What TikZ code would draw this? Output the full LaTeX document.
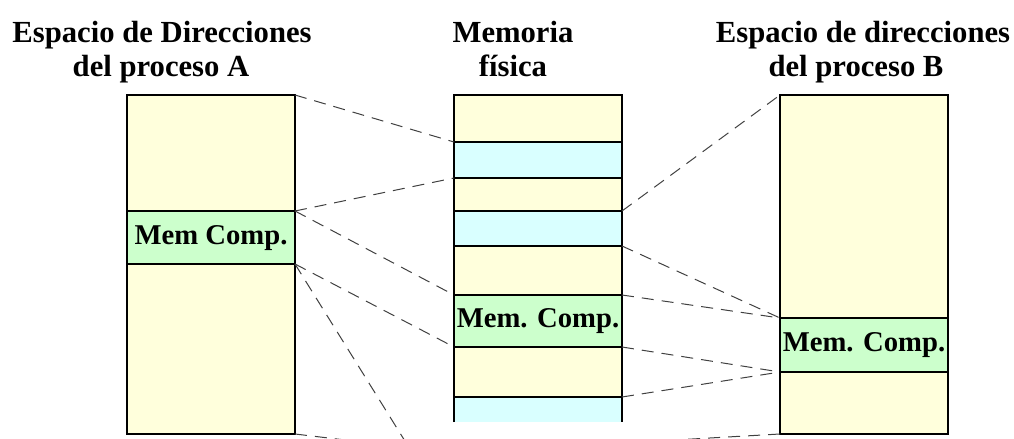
\documentclass[tikz,border=0pt]{standalone}
\usepackage{fontspec}
\setmainfont{Liberation Serif}
\definecolor{cyel}{HTML}{FFFFDC}
\definecolor{cblu}{HTML}{D9FFFF}
\definecolor{cgrn}{HTML}{CCFFCC}
\definecolor{cdash}{HTML}{404040}
\begin{document}
\begin{tikzpicture}[x=0.75pt,y=-0.75pt,
  colline/.style={draw=black,line width=1pt},
  link/.style={draw=cdash,line width=0.75pt,dash pattern=on 9pt off 6pt},
  title/.style={font=\fontsize{23}{27}\selectfont\bfseries,anchor=base,inner sep=0pt},
  memlabel/.style={font=\fontsize{21.5}{25}\selectfont\bfseries,inner sep=0pt}]
\useasboundingbox (0,0) rectangle (1014,439);
% titles
\node[title] (tA1) at (162,42) {Espacio de Direcciones};
\node[title] (tA2) at (161,76) {del proceso A};
\node[title] (tM1) at (513,42) {Memoria};
\node[title] (tM2) at (513,76) {física};
\node[title] (tB1) at (863,42) {Espacio de direcciones};
\node[title] (tB2) at (856,76) {del proceso B};
% column A
\fill[cyel] (127,95) rectangle (295,434);
\fill[cgrn] (127,211) rectangle (295,264);
\draw[colline] (127,95) rectangle (295,434);
\draw[colline] (126,211) -- (295,211);
\draw[colline] (126,264) -- (295,264);
\node[memlabel] (mA) at (211,238) {Mem Comp.};
% middle column
\fill[cyel] (454,95) rectangle (622,422);
\fill[cblu] (454,142) rectangle (622,178);
\fill[cblu] (454,211) rectangle (622,246);
\fill[cgrn] (454,295) rectangle (622,347);
\fill[cblu] (454,397) rectangle (622,422);
\draw[colline] (454,422) -- (454,95) -- (622,95) -- (622,422);
\foreach \yy in {142,178,211,246,295,347,397}
  \draw[colline] (454,\yy) -- (622,\yy);
\node[memlabel] (mM) at (538,321.5) {Mem. Comp.};
% column B
\fill[cyel] (780,95) rectangle (948,434);
\fill[cgrn] (780,318) rectangle (948,372);
\draw[colline] (780,95) rectangle (948,434);
\draw[colline] (780,318) -- (948,318);
\draw[colline] (780,372) -- (948,372);
\node[memlabel] (mB) at (864,345.5) {Mem. Comp.};
% connection points
\coordinate (A0) at (295,95);
\coordinate (A1) at (295,211);
\coordinate (A2) at (295,264);
\coordinate (A3) at (295,434);
\coordinate (ML1) at (454,142);
\coordinate (ML2) at (454,178);
\coordinate (ML3) at (454,295);
\coordinate (ML4) at (454,347);
\coordinate (ML5) at (454,520);
\coordinate (ML6) at (454,453);
\coordinate (MR1) at (622,211);
\coordinate (MR2) at (622,246);
\coordinate (MR3) at (622,295);
\coordinate (MR4) at (622,347);
\coordinate (MR5) at (622,397);
\coordinate (MR6) at (622,443);
\coordinate (B0) at (780,95);
\coordinate (B1) at (780,318);
\coordinate (B2) at (780,372);
\coordinate (B3) at (780,434);
\begin{scope}
\clip (0,0) rectangle (1014,439);
\draw[link] (A0) -- (ML1);
\draw[link] (A1) -- (ML2);
\draw[link] (A1) -- (ML3);
\draw[link] (A2) -- (ML4);
\draw[link] (A2) -- (ML5);
\draw[link] (A3) -- (ML6);
\draw[link] (MR1) -- (B0);
\draw[link] (MR2) -- (B1);
\draw[link] (MR3) -- (B1);
\draw[link] (MR4) -- (B2);
\draw[link] (MR5) -- (B2);
\draw[link] (B3) -- (MR6);
\end{scope}
\end{tikzpicture}
\end{document}
